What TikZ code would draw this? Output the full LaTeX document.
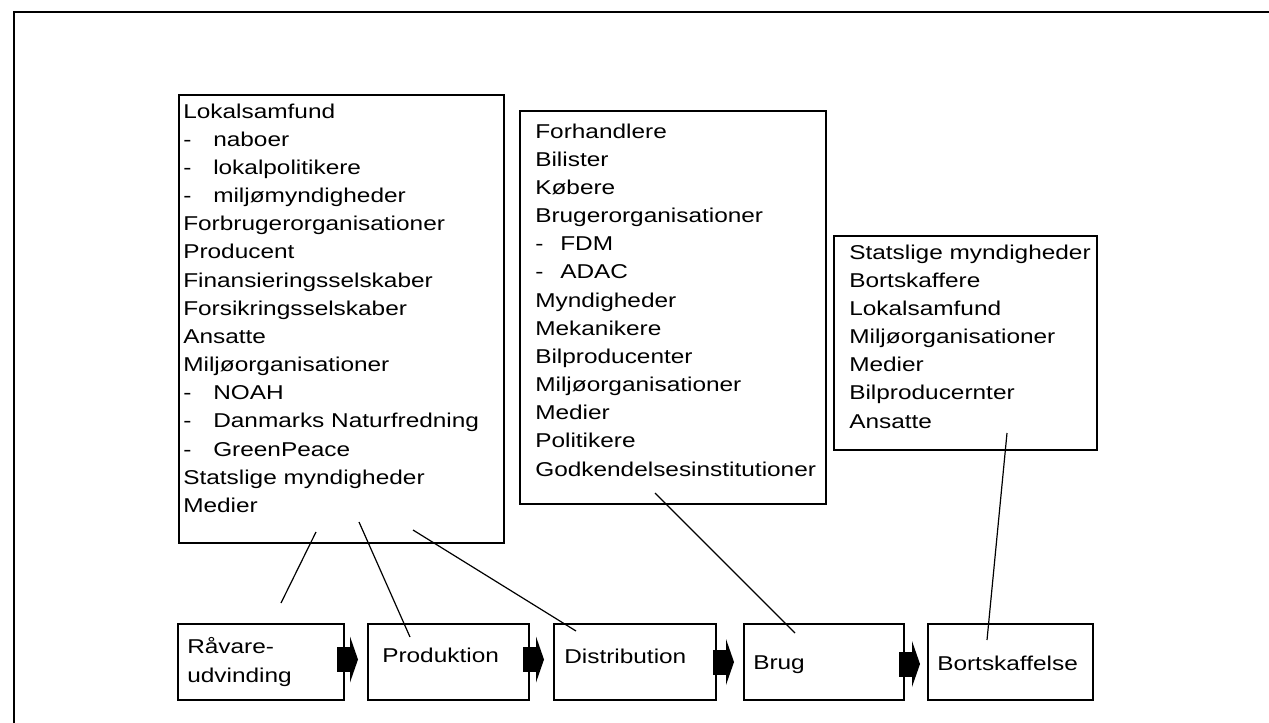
\documentclass[tikz,border=0pt]{standalone}
\usepackage{fontspec}
\newfontfamily\hand[FakeStretch=1.22]{Liberation Sans}
\newcommand\handtext{\hand\fontsize{15pt}{21.11pt}\selectfont}
\newcommand\dashA[1]{\makebox[22.5pt][l]{-}#1}
\newcommand\dashB[1]{\makebox[18.75pt][l]{-}#1}
\tikzset{
  boxstyle/.style={draw, line width=1.5pt, inner sep=0pt, anchor=north west},
  txt/.style={font=\handtext, align=left, inner sep=0pt, anchor=north west},
  lbl/.style={font=\handtext, inner sep=0pt, anchor=base west},
  link/.style={line width=0.9pt},
  frame/.style={line width=2pt},
  barrow/.pic={
    \fill (0,-12.5) rectangle (14,12.5);
    \fill (13,-23) -- (21,0) -- (13,23) -- cycle;
  }
}
\begin{document}
\begin{tikzpicture}[x=0.75pt,y=-0.75pt]
\useasboundingbox (0,0) rectangle (1269,723);
\clip (0,0) rectangle (1269,723);
\fill[white] (0,0) rectangle (1269,723);
% outer frame (only left and top edges visible)
\draw[frame] (14,740) -- (14,12) -- (1290,12);

% stakeholder boxes
\node[boxstyle, minimum width=243.75pt, minimum height=336pt] (b1) at (178,94) {};
\node[txt] (t1) at (183,103.5) {Lokalsamfund\\
\dashA{naboer}\\
\dashA{lokalpolitikere}\\
\dashA{miljømyndigheder}\\
Forbrugerorganisationer\\
Producent\\
Finansieringsselskaber\\
Forsikringsselskaber\\
Ansatte\\
Miljøorganisationer\\
\dashA{NOAH}\\
\dashA{Danmarks Naturfredning}\\
\dashA{GreenPeace}\\
Statslige myndigheder\\
Medier};

\node[boxstyle, minimum width=229.5pt, minimum height=294.75pt] (b2) at (519,110) {};
\node[txt] (t2) at (535,123.5) {Forhandlere\\
Bilister\\
Købere\\
Brugerorganisationer\\
\dashB{FDM}\\
\dashB{ADAC}\\
Myndigheder\\
Mekanikere\\
Bilproducenter\\
Miljøorganisationer\\
Medier\\
Politikere\\
Godkendelsesinstitutioner};

\node[boxstyle, minimum width=197.25pt, minimum height=160.5pt] (b3) at (833,235) {};
\node[txt] (t3) at (849,244.5) {Statslige myndigheder\\
Bortskaffere\\
Lokalsamfund\\
Miljøorganisationer\\
Medier\\
Bilproducernter\\
Ansatte};

% process boxes
\node[boxstyle, minimum width=124.5pt, minimum height=57pt] (p1) at (177,623) {};
\node[boxstyle, minimum width=120.75pt, minimum height=57pt] (p2) at (367,623) {};
\node[boxstyle, minimum width=121.5pt, minimum height=57pt] (p3) at (553,623) {};
\node[boxstyle, minimum width=120pt, minimum height=57pt] (p4) at (743,623) {};
\node[boxstyle, minimum width=123.75pt, minimum height=57pt] (p5) at (927,623) {};

\node[txt] (l1) at (187,637.5) {Råvare-\\udvinding};
\node[lbl] (l2) at (382,662) {Produktion};
\node[lbl] (l3) at (564,663) {Distribution};
\node[lbl] (l4) at (753,669) {Brug};
\node[lbl] (l5) at (937,670) {Bortskaffelse};

% block arrows between process boxes
\pic at (337,659.5) {barrow};
\pic at (523,659.5) {barrow};
\pic at (713,662) {barrow};
\pic at (899,664) {barrow};

% connector end points
\coordinate (a1) at (316,532);
\coordinate (a2) at (281,603);
\coordinate (c1) at (359,522);
\coordinate (c2) at (410,637);
\coordinate (d1) at (413,530);
\coordinate (d2) at (576,631);
\coordinate (e1) at (655,493);
\coordinate (e2) at (795,633);
\coordinate (f1) at (1007,433);
\coordinate (f2) at (987,640);

\draw[link] (a1) -- (a2);
\draw[link] (c1) -- (c2);
\draw[link] (d1) -- (d2);
\draw[link] (e1) -- (e2);
\draw[link] (f1) -- (f2);
\end{tikzpicture}
\end{document}
